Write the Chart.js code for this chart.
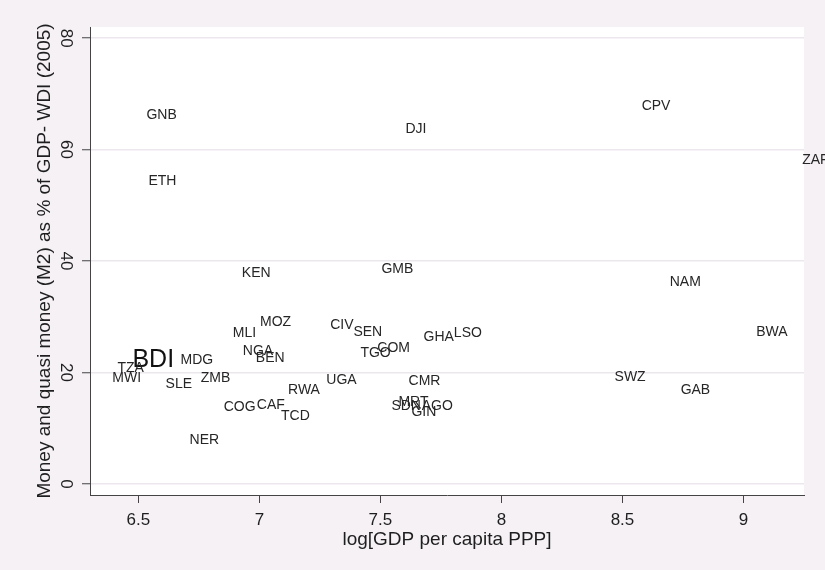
<!DOCTYPE html>
<html>
<head>
<meta charset="utf-8">
<script src="https://cdn.jsdelivr.net/npm/chart.js@4.4.1/dist/chart.umd.min.js"></script>
<style>
  html, body { margin: 0; padding: 0; background: #f5f1f5; }
  #wrap { width: 825px; height: 570px; position: relative; }
</style>
</head>
<body>
<div id="wrap"><canvas id="c" width="825" height="570"></canvas></div>
<script>
// Country codes
const countries = ['GNB','ETH','DJI','CPV','ZAF','KEN','GMB','NAM','BWA','SWZ','GAB',
  'MOZ','MLI','NGA','BEN','BDI','MDG','TZA','MWI','SLE','ZMB','RWA','UGA','COG','CAF',
  'TCD','NER','CIV','SEN','TGO','COM','GHA','LSO','CMR','SDN','MRT','AGO','GIN'];
// log GDP per capita PPP
const logGdp = [6.525,6.533,7.595,8.571,9.234,6.919,7.496,8.687,9.044,8.459,8.732,
  6.994,6.882,6.923,6.977,6.467,6.666,6.405,6.384,6.604,6.749,7.110,7.268,6.844,6.981,
  7.081,6.703,7.284,7.380,7.409,7.479,7.670,7.795,7.608,7.537,7.566,7.662,7.620];
// M2 as % of GDP (2005)
const m2 = [66.4,54.5,63.9,68.0,58.3,38.0,38.7,36.4,27.4,19.4,17.0,
  29.2,27.3,24.0,22.8,22.4,22.4,21.0,19.2,18.1,19.2,17.0,18.8,14.0,14.3,
  12.4,8.1,28.7,27.4,23.7,24.6,26.5,27.3,18.7,14.2,14.9,14.2,13.1];
const highlighted = ['BDI'];

const xTickValues = [6.5, 7, 7.5, 8, 8.5, 9];
const xTickLabels = ['6.5', '7', '7.5', '8', '8.5', '9'];
const yTickValues = [0, 20, 40, 60, 80];
const yTickLabels = ['0', '20', '40', '60', '80'];

const xTitle = 'log[GDP per capita PPP]';
const yTitle = 'Money and quasi money (M2) as % of GDP- WDI (2005)';

const points = countries.map((c, i) => ({ x: logGdp[i], y: m2[i], label: c }));

const plotBg = {
  id: 'plotBg',
  beforeDraw(chart) {
    const { ctx, chartArea: a } = chart;
    ctx.save();
    ctx.fillStyle = '#ffffff';
    ctx.fillRect(a.left, a.top, a.right - a.left, a.bottom - a.top);
    ctx.restore();
  }
};

const markerLabels = {
  id: 'markerLabels',
  afterDatasetsDraw(chart) {
    const { ctx } = chart;
    const meta = chart.getDatasetMeta(0);
    ctx.save();
    ctx.textAlign = 'left';
    ctx.textBaseline = 'middle';
    meta.data.forEach((el, i) => {
      const lab = chart.data.datasets[0].data[i].label;
      const big = highlighted.includes(lab);
      ctx.font = big ? '25px "Liberation Sans", Arial, sans-serif' : '14px "Liberation Sans", Arial, sans-serif';
      ctx.fillStyle = big ? '#111111' : '#262626';
      ctx.fillText(lab, el.x + 2, el.y + 1);
    });
    ctx.restore();
  }
};

const fontFam = '"Liberation Sans", Arial, sans-serif';

new Chart(document.getElementById('c'), {
  type: 'scatter',
  data: {
    datasets: [{
      data: points,
      pointRadius: 0,
      pointHoverRadius: 0,
      showLine: false
    }]
  },
  options: {
    responsive: false,
    animation: false,
    events: [],
    layout: { padding: { left: 0, top: 27, right: 21, bottom: 0 } },
    plugins: { legend: { display: false }, tooltip: { enabled: false } },
    scales: {
      x: {
        type: 'linear',
        min: 6.3,
        max: 9.25,
        afterBuildTicks(scale) { scale.ticks = xTickValues.map(v => ({ value: v })); },
        afterFit(scale) { scale.height = 75; },
        ticks: {
          callback: (v) => { const i = xTickValues.indexOf(v); return i >= 0 ? xTickLabels[i] : ''; },
          color: '#1e1e1e',
          font: { family: fontFam, size: 17 },
          padding: 7,
          maxRotation: 0,
          minRotation: 0
        },
        grid: { drawOnChartArea: false, tickLength: 8, tickColor: '#444', tickWidth: 1 },
        border: { display: true, color: '#444', width: 1 },
        title: {
          display: true,
          text: xTitle,
          color: '#1e1e1e',
          font: { family: fontFam, size: 19 },
          padding: { top: 0, bottom: 19 }
        }
      },
      y: {
        type: 'linear',
        min: -2,
        max: 82,
        afterBuildTicks(scale) { scale.ticks = yTickValues.map(v => ({ value: v })); },
        afterFit(scale) { scale.width = 90; },
        ticks: {
          callback: (v) => { const i = yTickValues.indexOf(v); return i >= 0 ? yTickLabels[i] : ''; },
          color: '#1e1e1e',
          font: { family: fontFam, size: 17 },
          padding: 7,
          minRotation: -90,
          maxRotation: -90,
          crossAlign: 'center'
        },
        grid: { color: '#ece7ec', lineWidth: 1.5, tickLength: 8, tickColor: '#444', tickWidth: 1 },
        border: { display: true, color: '#444', width: 1 },
        title: {
          display: true,
          text: yTitle,
          color: '#1e1e1e',
          font: { family: fontFam, size: 19 },
          padding: { top: 33, bottom: 0 }
        }
      }
    }
  },
  plugins: [plotBg, markerLabels]
});
</script>
</body>
</html>
